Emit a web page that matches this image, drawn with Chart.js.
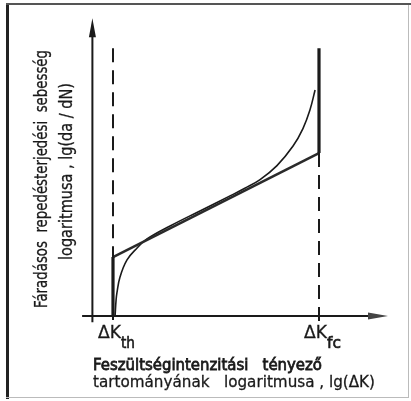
<!DOCTYPE html>
<html>
<head>
<meta charset="utf-8">
<script src="https://cdn.jsdelivr.net/npm/chart.js@4"></script>
<style>
  html, body { margin: 0; padding: 0; background: #fff; }
  canvas { display: block; }
</style>
</head>
<body>
<canvas id="chart" width="411" height="401"></canvas>
<script>
// lg(dK) on x, lg(da/dN) on y, arbitrary units (vertical axis at x = 0)
const thresholdX = 1;     // dK_th
const criticalX = 11;     // dK_fc
const parisY = [2.86, 7.91];          // straight line at dK_th and dK_fc
const boundTop = 13;                  // top of the dashed limit lines
const curveX = [1.10, 1.15, 1.19, 1.34, 1.68, 2.17, 2.65, 3.77, 5.22, 6.68, 7.40, 8.14, 8.96, 9.74, 10.22, 10.56, 10.81];
const curveY = [0.00, 0.78, 1.12, 1.89, 2.72, 3.30, 3.74, 4.37, 5.10, 5.83, 6.20, 6.62, 7.30, 8.25, 9.10, 10.00, 10.97];
const tickLabels = [["ΔK", "th"], ["ΔK", "fc"]];
const xTitle = ["Feszültségintenzitási   tényező", "tartományának   logaritmusa , lg(ΔK)"];
const yTitle = ["Fáradásos  repedésterjedési  sebesség", "logaritmusa , lg(da / dN)"];

const INK = "#1a1a1a";
const FONT = '"DejaVu Sans", sans-serif';

function seg(x1, y1, x2, y2) {
  return [{ x: x1, y: y1 }, { x: x2, y: y2 }];
}

function lineSet(data, width, extra) {
  return Object.assign({
    data,
    showLine: true,
    borderColor: INK,
    borderWidth: width,
    pointRadius: 0,
    fill: false,
  }, extra || {});
}

// draw text stretched/squeezed to a given width, with a little extra ink
function fitText(ctx, text, x, y, width, ink) {
  const w = ctx.measureText(text).width;
  ctx.save();
  ctx.translate(x, y);
  ctx.scale(width / w, 1);
  ctx.fillText(text, 0, 0);
  if (ink) {
    ctx.lineWidth = ink;
    ctx.strokeStyle = ctx.fillStyle;
    ctx.strokeText(text, 0, 0);
  }
  ctx.restore();
}

const decor = {
  id: "decor",
  beforeDraw(chart) {
    const ctx = chart.ctx;
    ctx.save();
    ctx.fillStyle = "#fff";
    ctx.fillRect(0, 0, chart.width, chart.height);
    // scanned frame
    ctx.fillStyle = "#222";
    ctx.fillRect(6, 4, 3, 395);
    ctx.fillStyle = "#555";
    ctx.fillRect(6, 3, 405, 2);
    ctx.fillStyle = "#bbb";
    ctx.fillRect(408, 5, 1, 393);
    ctx.fillRect(6, 397, 403, 1);
    ctx.restore();
  },
  afterDatasetsDraw(chart) {
    const ctx = chart.ctx;
    const xs = chart.scales.x, ys = chart.scales.y;
    const ox = xs.getPixelForValue(0), oy = ys.getPixelForValue(0);
    ctx.save();
    ctx.fillStyle = INK;
    // arrow heads
    const ty = ys.getPixelForValue(14.45);
    ctx.beginPath();
    ctx.moveTo(ox, ty);
    ctx.lineTo(ox - 3.5, ty + 19);
    ctx.lineTo(ox + 3.5, ty + 19);
    ctx.closePath();
    ctx.fill();
    const tx = xs.getPixelForValue(14.35);
    ctx.fillStyle = "#444";
    ctx.beginPath();
    ctx.moveTo(tx, oy);
    ctx.lineTo(tx - 20, oy - 3.5);
    ctx.lineTo(tx - 20, oy + 3.5);
    ctx.closePath();
    ctx.fill();

    // dK labels
    ctx.fillStyle = INK;
    ctx.textBaseline = "alphabetic";
    [thresholdX, criticalX].forEach((v, i) => {
      const px = xs.getPixelForValue(v);
      ctx.font = "17px " + FONT;
      fitText(ctx, tickLabels[i][0], px - 15, 338, 23, 0.3);
      ctx.font = "15px " + FONT;
      fitText(ctx, tickLabels[i][1], px + 8, 348, 14, 0.6);
    });

    // x title
    ctx.font = "16px " + FONT;
    fitText(ctx, xTitle[0], 93, 370, 229, 0.8);
    fitText(ctx, xTitle[1], 93, 387, 282, 0.3);

    // y title (rotated)
    ctx.font = "17px " + FONT;
    ctx.textBaseline = "middle";
    ctx.save();
    ctx.translate(43, 308);
    ctx.rotate(-Math.PI / 2);
    fitText(ctx, yTitle[0], 0, 0, 258, 0.3);
    ctx.restore();
    ctx.save();
    ctx.translate(68, 260);
    ctx.rotate(-Math.PI / 2);
    fitText(ctx, yTitle[1], 0, 0, 177, 0.3);
    ctx.restore();
    ctx.restore();
  },
};

const curve = curveX.map((x, i) => ({ x, y: curveY[i] }));

new Chart(document.getElementById("chart"), {
  type: "scatter",
  data: {
    datasets: [
      lineSet(seg(0, -0.3, 0, 13.6), 2),
      lineSet(seg(-0.5, 0, 13.5, 0), 2),
      lineSet(seg(thresholdX, boundTop, thresholdX, -0.2), 2, { borderDash: [14, 8] }),
      lineSet(seg(criticalX, parisY[1], criticalX, -0.45), 2, { borderDash: [14, 8] }),
      lineSet(seg(thresholdX, 0, thresholdX, parisY[0]), 3.2),
      lineSet(seg(criticalX, parisY[1], criticalX, boundTop), 3.2),
      lineSet(seg(thresholdX, parisY[0], criticalX, parisY[1]), 2.6, { borderColor: "#2a2a2a" }),
      lineSet(curve, 1.6, { tension: 0.4 }),
    ],
  },
  options: {
    responsive: false,
    animation: false,
    events: [],
    layout: { padding: { left: 71.8, right: 9.6, top: 7, bottom: 64.4 } },
    plugins: { legend: { display: false }, tooltip: { enabled: false } },
    scales: {
      x: { type: "linear", display: false, min: -1, max: 15 },
      y: { type: "linear", display: false, min: -1, max: 15 },
    },
  },
  plugins: [decor],
});
</script>
</body>
</html>
